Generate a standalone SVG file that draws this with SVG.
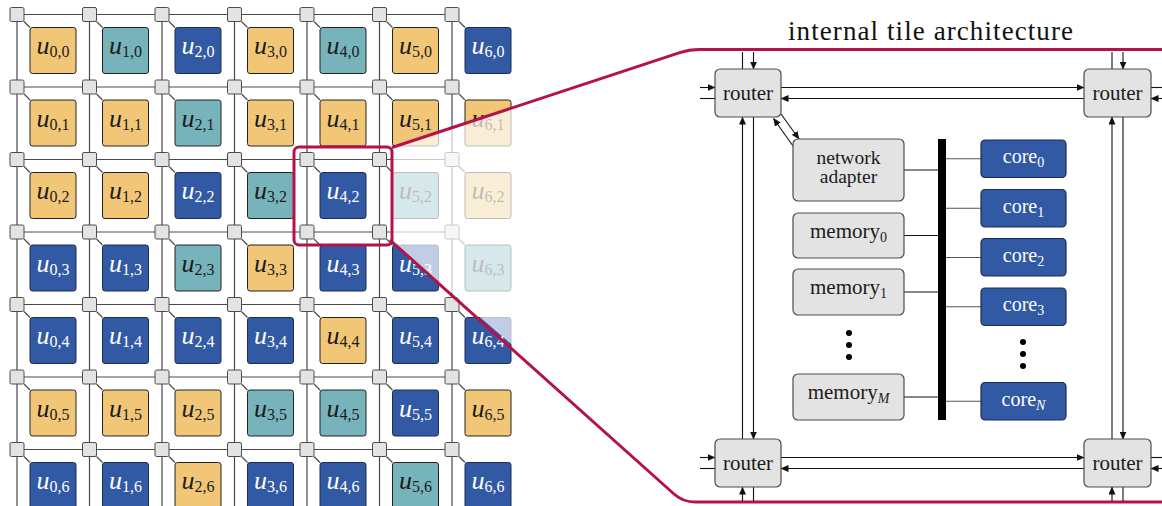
<svg xmlns="http://www.w3.org/2000/svg" xmlns:xlink="http://www.w3.org/1999/xlink" width="1162" height="506" viewBox="0 0 1162 506">
  <style>
    text { font-family: "Liberation Serif", "DejaVu Serif", serif; }
    .gl { fill: none; stroke: #4a4a4a; stroke-width: 1.2; }
    .rt { fill: #e3e3e3; stroke: #4d4d4d; stroke-width: 1; }
    .o { fill: #f2c677; stroke: #222; stroke-width: 1; }
    .t { fill: #77b3bb; stroke: #222; stroke-width: 1; }
    .b { fill: #3159a4; stroke: #1d2d52; stroke-width: 1; }
    .lbl { font-size: 26px; text-anchor: middle; fill: #1b1b1b; }
    .lbl.w { fill: #ffffff; }
    .it { font-style: italic; }
    .s { font-size: 16px; font-style: normal; }
    .hl { fill: none; stroke: #b5124b; stroke-width: 3; }
    .box { fill: #e3e3e3; stroke: #4d4d4d; stroke-width: 1.2; }
    .core { fill: #3159a4; stroke: #1d2d52; stroke-width: 1.2; }
    .pt { font-size: 21px; text-anchor: middle; fill: #1b1b1b; }
    .pt.w { fill: #ffffff; font-size: 20px; }
    .pt.na { font-size: 19.5px; }
    .ps { font-size: 14px; }
    .ln { fill: none; stroke: #111; stroke-width: 1.1; }
    .lg { fill: none; stroke: #555; stroke-width: 1.1; }
    .ar { fill: none; stroke: #111; stroke-width: 1.1; marker-end: url(#arrow); }
  </style>
  <defs>
    <marker id="arrow" markerUnits="userSpaceOnUse" markerWidth="8" markerHeight="7" refX="7.5" refY="3.5" orient="auto">
      <path d="M0,0 L8,3.5 L0,7 z" fill="#111"/>
    </marker>
    <rect id="rsq" x="-7" y="-7" width="14" height="14" rx="1.5" class="rt"/>
  </defs>
  <rect width="1162" height="506" fill="#ffffff"/>

  <!-- mesh links -->
  <g id="grid-links">
    <path class="gl" d="M17 14.5H452M17 87H452M17 159.5H452M17 232H452M17 304.5H452M17 377H452M17 449.5H452"/>
    <path class="gl" d="M17 14.5V506M89.5 14.5V506M162 14.5V506M234.5 14.5V506M307 14.5V506M379.5 14.5V506M452 14.5V506"/>
    <path class="gl" stroke-width="1" d="M24 21.5l6 6M96.5 21.5l6 6M169 21.5l6 6M241.5 21.5l6 6M314 21.5l6 6M386.5 21.5l6 6M459 21.5l6 6
      M24 94l6 6M96.5 94l6 6M169 94l6 6M241.5 94l6 6M314 94l6 6M386.5 94l6 6M459 94l6 6
      M24 166.5l6 6M96.5 166.5l6 6M169 166.5l6 6M241.5 166.5l6 6M314 166.5l6 6M386.5 166.5l6 6M459 166.5l6 6
      M24 239l6 6M96.5 239l6 6M169 239l6 6M241.5 239l6 6M314 239l6 6M386.5 239l6 6M459 239l6 6
      M24 311.5l6 6M96.5 311.5l6 6M169 311.5l6 6M241.5 311.5l6 6M314 311.5l6 6M386.5 311.5l6 6M459 311.5l6 6
      M24 384l6 6M96.5 384l6 6M169 384l6 6M241.5 384l6 6M314 384l6 6M386.5 384l6 6M459 384l6 6
      M24 456.5l6 6M96.5 456.5l6 6M169 456.5l6 6M241.5 456.5l6 6M314 456.5l6 6M386.5 456.5l6 6M459 456.5l6 6"/>
  </g>

  <!-- mesh routers -->
  <g id="grid-routers">
    <use id="r0_0" xlink:href="#rsq" x="17" y="14.5"/><use id="r1_0" xlink:href="#rsq" x="89.5" y="14.5"/><use id="r2_0" xlink:href="#rsq" x="162" y="14.5"/><use id="r3_0" xlink:href="#rsq" x="234.5" y="14.5"/><use id="r4_0" xlink:href="#rsq" x="307" y="14.5"/><use id="r5_0" xlink:href="#rsq" x="379.5" y="14.5"/><use id="r6_0" xlink:href="#rsq" x="452" y="14.5"/>
    <use id="r0_1" xlink:href="#rsq" x="17" y="87"/><use id="r1_1" xlink:href="#rsq" x="89.5" y="87"/><use id="r2_1" xlink:href="#rsq" x="162" y="87"/><use id="r3_1" xlink:href="#rsq" x="234.5" y="87"/><use id="r4_1" xlink:href="#rsq" x="307" y="87"/><use id="r5_1" xlink:href="#rsq" x="379.5" y="87"/><use id="r6_1" xlink:href="#rsq" x="452" y="87"/>
    <use id="r0_2" xlink:href="#rsq" x="17" y="159.5"/><use id="r1_2" xlink:href="#rsq" x="89.5" y="159.5"/><use id="r2_2" xlink:href="#rsq" x="162" y="159.5"/><use id="r3_2" xlink:href="#rsq" x="234.5" y="159.5"/><use id="r4_2" xlink:href="#rsq" x="307" y="159.5"/><use id="r5_2" xlink:href="#rsq" x="379.5" y="159.5"/><use id="r6_2" xlink:href="#rsq" x="452" y="159.5"/>
    <use id="r0_3" xlink:href="#rsq" x="17" y="232"/><use id="r1_3" xlink:href="#rsq" x="89.5" y="232"/><use id="r2_3" xlink:href="#rsq" x="162" y="232"/><use id="r3_3" xlink:href="#rsq" x="234.5" y="232"/><use id="r4_3" xlink:href="#rsq" x="307" y="232"/><use id="r5_3" xlink:href="#rsq" x="379.5" y="232"/><use id="r6_3" xlink:href="#rsq" x="452" y="232"/>
    <use id="r0_4" xlink:href="#rsq" x="17" y="304.5"/><use id="r1_4" xlink:href="#rsq" x="89.5" y="304.5"/><use id="r2_4" xlink:href="#rsq" x="162" y="304.5"/><use id="r3_4" xlink:href="#rsq" x="234.5" y="304.5"/><use id="r4_4" xlink:href="#rsq" x="307" y="304.5"/><use id="r5_4" xlink:href="#rsq" x="379.5" y="304.5"/><use id="r6_4" xlink:href="#rsq" x="452" y="304.5"/>
    <use id="r0_5" xlink:href="#rsq" x="17" y="377"/><use id="r1_5" xlink:href="#rsq" x="89.5" y="377"/><use id="r2_5" xlink:href="#rsq" x="162" y="377"/><use id="r3_5" xlink:href="#rsq" x="234.5" y="377"/><use id="r4_5" xlink:href="#rsq" x="307" y="377"/><use id="r5_5" xlink:href="#rsq" x="379.5" y="377"/><use id="r6_5" xlink:href="#rsq" x="452" y="377"/>
    <use id="r0_6" xlink:href="#rsq" x="17" y="449.5"/><use id="r1_6" xlink:href="#rsq" x="89.5" y="449.5"/><use id="r2_6" xlink:href="#rsq" x="162" y="449.5"/><use id="r3_6" xlink:href="#rsq" x="234.5" y="449.5"/><use id="r4_6" xlink:href="#rsq" x="307" y="449.5"/><use id="r5_6" xlink:href="#rsq" x="379.5" y="449.5"/><use id="r6_6" xlink:href="#rsq" x="452" y="449.5"/>
  </g>

  <!-- processing units, row 0 -->
  <g id="u0_0"><rect class="o" x="30" y="27.5" width="46" height="46" rx="2.5"/><text class="lbl" x="53" y="54"><tspan class="it">u</tspan><tspan class="s" dy="3">0,0</tspan></text></g>
  <g id="u1_0"><rect class="t" x="102.5" y="27.5" width="46" height="46" rx="2.5"/><text class="lbl" x="125.5" y="54"><tspan class="it">u</tspan><tspan class="s" dy="3">1,0</tspan></text></g>
  <g id="u2_0"><rect class="b" x="175" y="27.5" width="46" height="46" rx="2.5"/><text class="lbl w" x="198" y="54"><tspan class="it">u</tspan><tspan class="s" dy="3">2,0</tspan></text></g>
  <g id="u3_0"><rect class="o" x="247.5" y="27.5" width="46" height="46" rx="2.5"/><text class="lbl" x="270.5" y="54"><tspan class="it">u</tspan><tspan class="s" dy="3">3,0</tspan></text></g>
  <g id="u4_0"><rect class="t" x="320" y="27.5" width="46" height="46" rx="2.5"/><text class="lbl" x="343" y="54"><tspan class="it">u</tspan><tspan class="s" dy="3">4,0</tspan></text></g>
  <g id="u5_0"><rect class="o" x="392.5" y="27.5" width="46" height="46" rx="2.5"/><text class="lbl" x="415.5" y="54"><tspan class="it">u</tspan><tspan class="s" dy="3">5,0</tspan></text></g>
  <g id="u6_0"><rect class="b" x="465" y="27.5" width="46" height="46" rx="2.5"/><text class="lbl w" x="488" y="54"><tspan class="it">u</tspan><tspan class="s" dy="3">6,0</tspan></text></g>
  <!-- row 1 -->
  <g id="u0_1"><rect class="o" x="30" y="100" width="46" height="46" rx="2.5"/><text class="lbl" x="53" y="126.5"><tspan class="it">u</tspan><tspan class="s" dy="3">0,1</tspan></text></g>
  <g id="u1_1"><rect class="o" x="102.5" y="100" width="46" height="46" rx="2.5"/><text class="lbl" x="125.5" y="126.5"><tspan class="it">u</tspan><tspan class="s" dy="3">1,1</tspan></text></g>
  <g id="u2_1"><rect class="t" x="175" y="100" width="46" height="46" rx="2.5"/><text class="lbl" x="198" y="126.5"><tspan class="it">u</tspan><tspan class="s" dy="3">2,1</tspan></text></g>
  <g id="u3_1"><rect class="o" x="247.5" y="100" width="46" height="46" rx="2.5"/><text class="lbl" x="270.5" y="126.5"><tspan class="it">u</tspan><tspan class="s" dy="3">3,1</tspan></text></g>
  <g id="u4_1"><rect class="o" x="320" y="100" width="46" height="46" rx="2.5"/><text class="lbl" x="343" y="126.5"><tspan class="it">u</tspan><tspan class="s" dy="3">4,1</tspan></text></g>
  <g id="u5_1"><rect class="o" x="392.5" y="100" width="46" height="46" rx="2.5"/><text class="lbl" x="415.5" y="126.5"><tspan class="it">u</tspan><tspan class="s" dy="3">5,1</tspan></text></g>
  <g id="u6_1"><rect class="o" x="465" y="100" width="46" height="46" rx="2.5"/><text class="lbl" x="488" y="126.5"><tspan class="it">u</tspan><tspan class="s" dy="3">6,1</tspan></text></g>
  <!-- row 2 -->
  <g id="u0_2"><rect class="o" x="30" y="172.5" width="46" height="46" rx="2.5"/><text class="lbl" x="53" y="199"><tspan class="it">u</tspan><tspan class="s" dy="3">0,2</tspan></text></g>
  <g id="u1_2"><rect class="o" x="102.5" y="172.5" width="46" height="46" rx="2.5"/><text class="lbl" x="125.5" y="199"><tspan class="it">u</tspan><tspan class="s" dy="3">1,2</tspan></text></g>
  <g id="u2_2"><rect class="b" x="175" y="172.5" width="46" height="46" rx="2.5"/><text class="lbl w" x="198" y="199"><tspan class="it">u</tspan><tspan class="s" dy="3">2,2</tspan></text></g>
  <g id="u3_2"><rect class="t" x="247.5" y="172.5" width="46" height="46" rx="2.5"/><text class="lbl" x="270.5" y="199"><tspan class="it">u</tspan><tspan class="s" dy="3">3,2</tspan></text></g>
  <g id="u4_2"><rect class="b" x="320" y="172.5" width="46" height="46" rx="2.5"/><text class="lbl w" x="343" y="199"><tspan class="it">u</tspan><tspan class="s" dy="3">4,2</tspan></text></g>
  <g id="u5_2"><rect class="t" x="392.5" y="172.5" width="46" height="46" rx="2.5"/><text class="lbl" x="415.5" y="199"><tspan class="it">u</tspan><tspan class="s" dy="3">5,2</tspan></text></g>
  <g id="u6_2"><rect class="o" x="465" y="172.5" width="46" height="46" rx="2.5"/><text class="lbl" x="488" y="199"><tspan class="it">u</tspan><tspan class="s" dy="3">6,2</tspan></text></g>
  <!-- row 3 -->
  <g id="u0_3"><rect class="b" x="30" y="245" width="46" height="46" rx="2.5"/><text class="lbl w" x="53" y="271.5"><tspan class="it">u</tspan><tspan class="s" dy="3">0,3</tspan></text></g>
  <g id="u1_3"><rect class="b" x="102.5" y="245" width="46" height="46" rx="2.5"/><text class="lbl w" x="125.5" y="271.5"><tspan class="it">u</tspan><tspan class="s" dy="3">1,3</tspan></text></g>
  <g id="u2_3"><rect class="t" x="175" y="245" width="46" height="46" rx="2.5"/><text class="lbl" x="198" y="271.5"><tspan class="it">u</tspan><tspan class="s" dy="3">2,3</tspan></text></g>
  <g id="u3_3"><rect class="o" x="247.5" y="245" width="46" height="46" rx="2.5"/><text class="lbl" x="270.5" y="271.5"><tspan class="it">u</tspan><tspan class="s" dy="3">3,3</tspan></text></g>
  <g id="u4_3"><rect class="b" x="320" y="245" width="46" height="46" rx="2.5"/><text class="lbl w" x="343" y="271.5"><tspan class="it">u</tspan><tspan class="s" dy="3">4,3</tspan></text></g>
  <g id="u5_3"><rect class="b" x="392.5" y="245" width="46" height="46" rx="2.5"/><text class="lbl w" x="415.5" y="271.5"><tspan class="it">u</tspan><tspan class="s" dy="3">5,3</tspan></text></g>
  <g id="u6_3"><rect class="t" x="465" y="245" width="46" height="46" rx="2.5"/><text class="lbl" x="488" y="271.5"><tspan class="it">u</tspan><tspan class="s" dy="3">6,3</tspan></text></g>
  <!-- row 4 -->
  <g id="u0_4"><rect class="b" x="30" y="317.5" width="46" height="46" rx="2.5"/><text class="lbl w" x="53" y="344"><tspan class="it">u</tspan><tspan class="s" dy="3">0,4</tspan></text></g>
  <g id="u1_4"><rect class="b" x="102.5" y="317.5" width="46" height="46" rx="2.5"/><text class="lbl w" x="125.5" y="344"><tspan class="it">u</tspan><tspan class="s" dy="3">1,4</tspan></text></g>
  <g id="u2_4"><rect class="b" x="175" y="317.5" width="46" height="46" rx="2.5"/><text class="lbl w" x="198" y="344"><tspan class="it">u</tspan><tspan class="s" dy="3">2,4</tspan></text></g>
  <g id="u3_4"><rect class="b" x="247.5" y="317.5" width="46" height="46" rx="2.5"/><text class="lbl w" x="270.5" y="344"><tspan class="it">u</tspan><tspan class="s" dy="3">3,4</tspan></text></g>
  <g id="u4_4"><rect class="o" x="320" y="317.5" width="46" height="46" rx="2.5"/><text class="lbl" x="343" y="344"><tspan class="it">u</tspan><tspan class="s" dy="3">4,4</tspan></text></g>
  <g id="u5_4"><rect class="b" x="392.5" y="317.5" width="46" height="46" rx="2.5"/><text class="lbl w" x="415.5" y="344"><tspan class="it">u</tspan><tspan class="s" dy="3">5,4</tspan></text></g>
  <g id="u6_4"><rect class="b" x="465" y="317.5" width="46" height="46" rx="2.5"/><text class="lbl w" x="488" y="344"><tspan class="it">u</tspan><tspan class="s" dy="3">6,4</tspan></text></g>
  <!-- row 5 -->
  <g id="u0_5"><rect class="o" x="30" y="390" width="46" height="46" rx="2.5"/><text class="lbl" x="53" y="416.5"><tspan class="it">u</tspan><tspan class="s" dy="3">0,5</tspan></text></g>
  <g id="u1_5"><rect class="o" x="102.5" y="390" width="46" height="46" rx="2.5"/><text class="lbl" x="125.5" y="416.5"><tspan class="it">u</tspan><tspan class="s" dy="3">1,5</tspan></text></g>
  <g id="u2_5"><rect class="o" x="175" y="390" width="46" height="46" rx="2.5"/><text class="lbl" x="198" y="416.5"><tspan class="it">u</tspan><tspan class="s" dy="3">2,5</tspan></text></g>
  <g id="u3_5"><rect class="t" x="247.5" y="390" width="46" height="46" rx="2.5"/><text class="lbl" x="270.5" y="416.5"><tspan class="it">u</tspan><tspan class="s" dy="3">3,5</tspan></text></g>
  <g id="u4_5"><rect class="t" x="320" y="390" width="46" height="46" rx="2.5"/><text class="lbl" x="343" y="416.5"><tspan class="it">u</tspan><tspan class="s" dy="3">4,5</tspan></text></g>
  <g id="u5_5"><rect class="b" x="392.5" y="390" width="46" height="46" rx="2.5"/><text class="lbl w" x="415.5" y="416.5"><tspan class="it">u</tspan><tspan class="s" dy="3">5,5</tspan></text></g>
  <g id="u6_5"><rect class="o" x="465" y="390" width="46" height="46" rx="2.5"/><text class="lbl" x="488" y="416.5"><tspan class="it">u</tspan><tspan class="s" dy="3">6,5</tspan></text></g>
  <!-- row 6 -->
  <g id="u0_6"><rect class="b" x="30" y="462.5" width="46" height="46" rx="2.5"/><text class="lbl w" x="53" y="489"><tspan class="it">u</tspan><tspan class="s" dy="3">0,6</tspan></text></g>
  <g id="u1_6"><rect class="b" x="102.5" y="462.5" width="46" height="46" rx="2.5"/><text class="lbl w" x="125.5" y="489"><tspan class="it">u</tspan><tspan class="s" dy="3">1,6</tspan></text></g>
  <g id="u2_6"><rect class="o" x="175" y="462.5" width="46" height="46" rx="2.5"/><text class="lbl" x="198" y="489"><tspan class="it">u</tspan><tspan class="s" dy="3">2,6</tspan></text></g>
  <g id="u3_6"><rect class="b" x="247.5" y="462.5" width="46" height="46" rx="2.5"/><text class="lbl w" x="270.5" y="489"><tspan class="it">u</tspan><tspan class="s" dy="3">3,6</tspan></text></g>
  <g id="u4_6"><rect class="b" x="320" y="462.5" width="46" height="46" rx="2.5"/><text class="lbl w" x="343" y="489"><tspan class="it">u</tspan><tspan class="s" dy="3">4,6</tspan></text></g>
  <g id="u5_6"><rect class="t" x="392.5" y="462.5" width="46" height="46" rx="2.5"/><text class="lbl" x="415.5" y="489"><tspan class="it">u</tspan><tspan class="s" dy="3">5,6</tspan></text></g>
  <g id="u6_6"><rect class="b" x="465" y="462.5" width="46" height="46" rx="2.5"/><text class="lbl w" x="488" y="489"><tspan class="it">u</tspan><tspan class="s" dy="3">6,6</tspan></text></g>

  <!-- washed-out wedge behind the zoom callout -->
  <polygon id="fade" points="392,147.5 700,46 700,506 390,240" fill="#ffffff" fill-opacity="0.7"/>

  <!-- zoom callout: selected tile frame and panel outline -->
  <g id="callout">
    <rect class="hl" x="294" y="147" width="98" height="98" rx="5"/>
    <path class="hl" d="M392 147.5L679 52.8Q689 49.5 700 49.5H1164"/>
    <path class="hl" d="M390 240L674 494Q683 502 695 502H1164"/>
  </g>

  <text id="title" x="788" y="40" font-size="27" textLength="285" lengthAdjust="spacing" fill="#111">internal tile architecture</text>

  <!-- on-tile links -->
  <g id="connectors">
    <!-- top lanes -->
    <line class="ar" x1="700" y1="87.5" x2="715" y2="87.5"/>
    <line class="ln" x1="715" y1="98.5" x2="700" y2="98.5"/>
    <line class="ar" x1="781" y1="87.5" x2="1084" y2="87.5"/>
    <line class="ar" x1="1084" y1="98.5" x2="781" y2="98.5"/>
    <line class="ln" x1="1151" y1="87.5" x2="1162" y2="87.5"/>
    <line class="ar" x1="1164" y1="98.5" x2="1151" y2="98.5"/>
    <!-- bottom lanes -->
    <line class="ar" x1="700" y1="457.5" x2="715" y2="457.5"/>
    <line class="ln" x1="715" y1="468.5" x2="700" y2="468.5"/>
    <line class="ar" x1="781" y1="457.5" x2="1084" y2="457.5"/>
    <line class="ar" x1="1084" y1="468.5" x2="781" y2="468.5"/>
    <line class="ln" x1="1151" y1="457.5" x2="1162" y2="457.5"/>
    <line class="ar" x1="1164" y1="468.5" x2="1151" y2="468.5"/>
    <!-- left vertical lanes -->
    <line class="ln" x1="742.5" y1="69" x2="742.5" y2="52"/>
    <line class="ar" x1="753.5" y1="52" x2="753.5" y2="69"/>
    <line class="ar" x1="742.5" y1="439" x2="742.5" y2="117"/>
    <line class="ar" x1="753.5" y1="117" x2="753.5" y2="439"/>
    <line class="ar" x1="742.5" y1="501" x2="742.5" y2="487"/>
    <line class="ln" x1="753.5" y1="487" x2="753.5" y2="501"/>
    <!-- right vertical lanes -->
    <line class="ln" x1="1112" y1="69" x2="1112" y2="52"/>
    <line class="ar" x1="1123" y1="52" x2="1123" y2="69"/>
    <line class="ar" x1="1112" y1="439" x2="1112" y2="117"/>
    <line class="ar" x1="1123" y1="117" x2="1123" y2="439"/>
    <line class="ar" x1="1112" y1="501" x2="1112" y2="487"/>
    <line class="ln" x1="1123" y1="487" x2="1123" y2="501"/>
    <!-- router <-> network adapter -->
    <line class="ar" x1="781" y1="114" x2="799" y2="139"/>
    <line class="ar" x1="793" y1="146" x2="773.5" y2="118.5"/>
    <!-- attachments to the bus -->
    <line class="ln" x1="904" y1="170" x2="938" y2="170"/>
    <line class="ln" x1="904" y1="235.5" x2="938" y2="235.5"/>
    <line class="ln" x1="904" y1="292" x2="938" y2="292"/>
    <line class="ln" x1="904" y1="397" x2="938" y2="397"/>
    <line class="lg" x1="946" y1="158.8" x2="981" y2="158.8"/>
    <line class="lg" x1="946" y1="208.3" x2="981" y2="208.3"/>
    <line class="lg" x1="946" y1="257.5" x2="981" y2="257.5"/>
    <line class="lg" x1="946" y1="306.8" x2="981" y2="306.8"/>
    <line class="lg" x1="946" y1="401.3" x2="981" y2="401.3"/>
  </g>

  <!-- routers -->
  <g id="router-nw"><rect class="box" x="715" y="69" width="66" height="48" rx="5"/><text class="pt" x="748" y="99.5">router</text></g>
  <g id="router-ne"><rect class="box" x="1084" y="69" width="67" height="48" rx="5"/><text class="pt" x="1117.5" y="99.5">router</text></g>
  <g id="router-sw"><rect class="box" x="715" y="439" width="66" height="48" rx="5"/><text class="pt" x="748" y="469.5">router</text></g>
  <g id="router-se"><rect class="box" x="1084" y="439" width="67" height="48" rx="5"/><text class="pt" x="1117.5" y="469.5">router</text></g>

  <!-- network adapter -->
  <g id="network-adapter"><rect class="box" x="793" y="139" width="111" height="62" rx="5"/><text class="pt na" x="848.5" y="163.5"><tspan x="848.5">network</tspan><tspan x="848.5" dy="19.5">adapter</tspan></text></g>

  <!-- shared bus -->
  <rect id="bus" x="938" y="139" width="8" height="281" fill="#000"/>

  <!-- memories -->
  <g id="memory0"><rect class="box" x="793" y="213" width="111" height="45" rx="5"/><text class="pt" x="848.5" y="237.5">memory<tspan class="ps" dy="4">0</tspan></text></g>
  <g id="memory1"><rect class="box" x="793" y="269" width="111" height="46" rx="5"/><text class="pt" x="848.5" y="294">memory<tspan class="ps" dy="4">1</tspan></text></g>
  <g id="memory-dots" fill="#000"><circle cx="849" cy="333" r="3"/><circle cx="849" cy="345" r="3"/><circle cx="849" cy="357" r="3"/></g>
  <g id="memoryM"><rect class="box" x="793" y="374" width="111" height="46" rx="5"/><text class="pt" x="848.5" y="399">memory<tspan class="ps it" dy="4">M</tspan></text></g>

  <!-- cores -->
  <g id="core0"><rect class="core" x="981" y="140" width="85" height="37.5" rx="4"/><text class="pt w" x="1023.5" y="163">core<tspan class="ps" dy="4">0</tspan></text></g>
  <g id="core1"><rect class="core" x="981" y="189.5" width="85" height="37.5" rx="4"/><text class="pt w" x="1023.5" y="212.5">core<tspan class="ps" dy="4">1</tspan></text></g>
  <g id="core2"><rect class="core" x="981" y="238.5" width="85" height="37.5" rx="4"/><text class="pt w" x="1023.5" y="261.5">core<tspan class="ps" dy="4">2</tspan></text></g>
  <g id="core3"><rect class="core" x="981" y="288" width="85" height="37.5" rx="4"/><text class="pt w" x="1023.5" y="311">core<tspan class="ps" dy="4">3</tspan></text></g>
  <g id="core-dots" fill="#000"><circle cx="1023" cy="342" r="3"/><circle cx="1023" cy="354" r="3"/><circle cx="1023" cy="366" r="3"/></g>
  <g id="coreN"><rect class="core" x="981" y="382.5" width="85" height="37.5" rx="4"/><text class="pt w" x="1023.5" y="405.5">core<tspan class="ps it" dy="4">N</tspan></text></g>
</svg>
